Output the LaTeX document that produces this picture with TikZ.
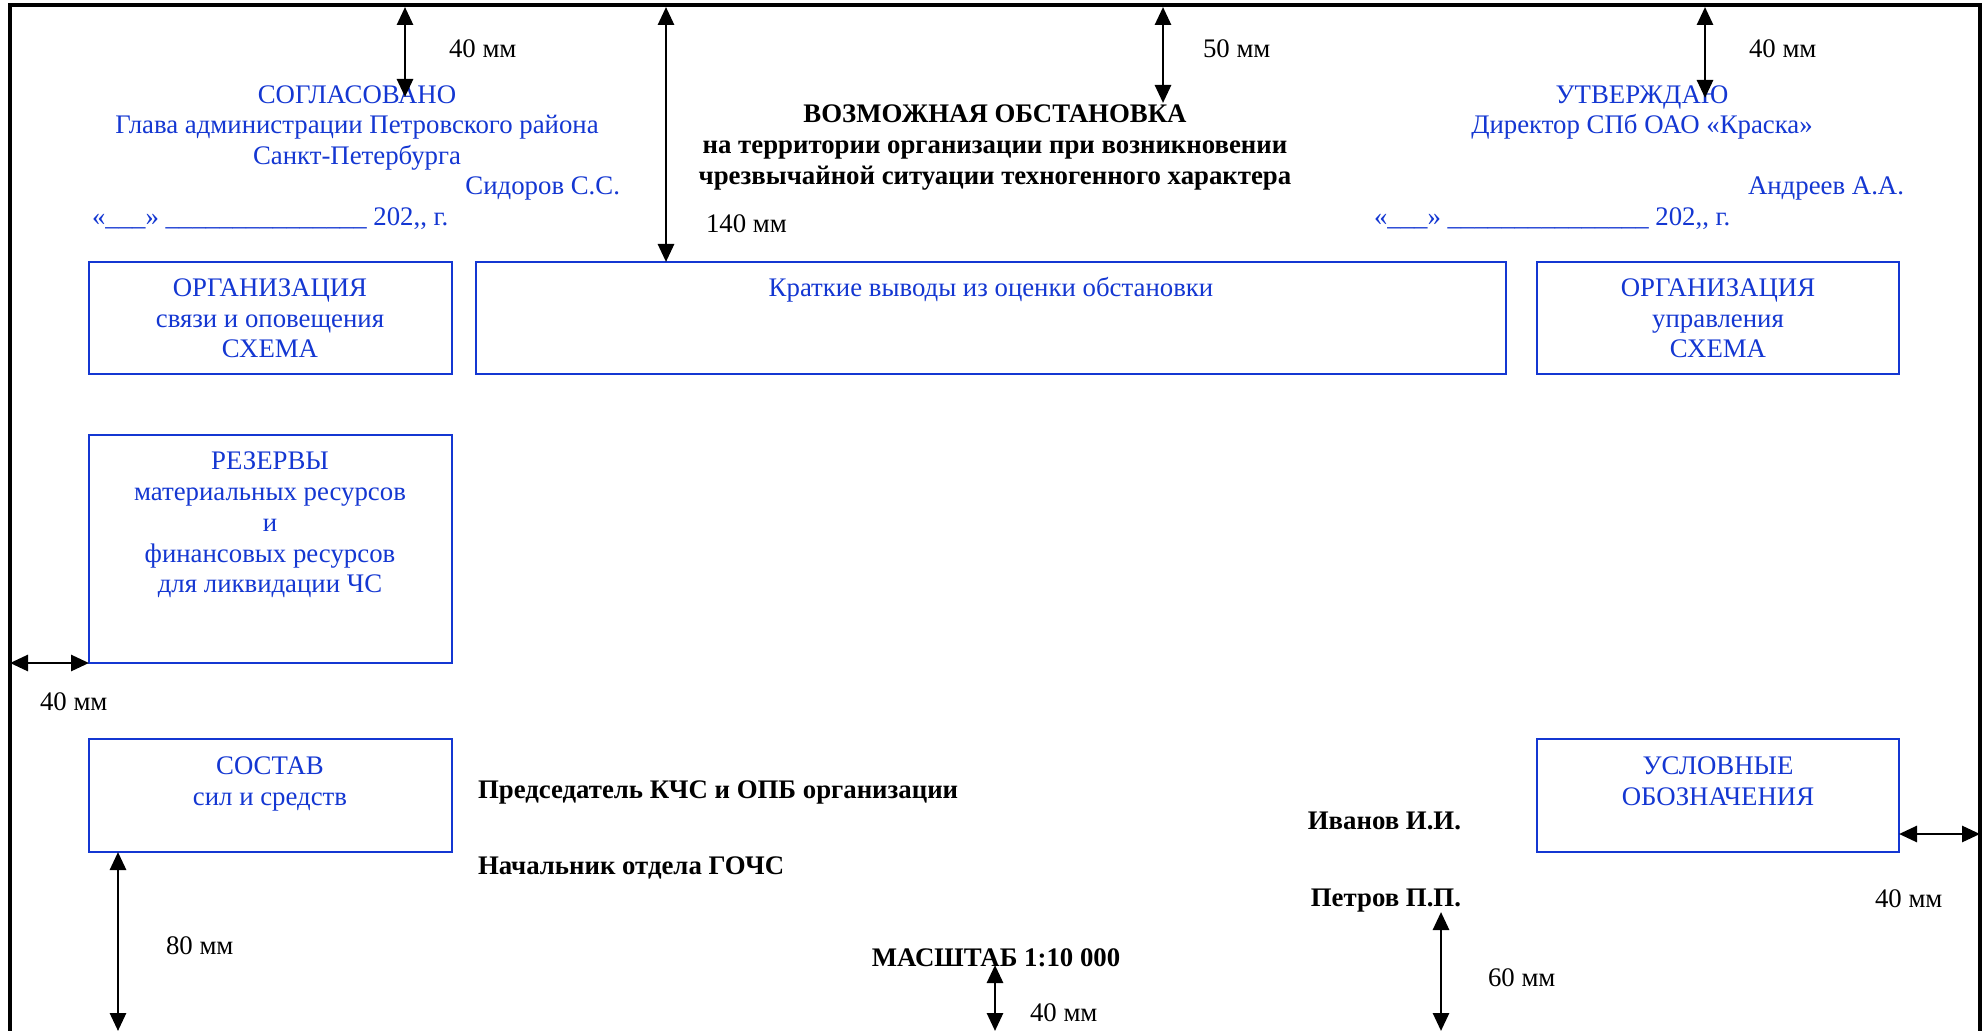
\documentclass[tikz,border=0pt]{standalone}
\usepackage{fontspec}
\setmainfont{Liberation Serif}
\usetikzlibrary{arrows.meta,fit}
\definecolor{docblue}{RGB}{20,55,210}
\newcommand\fsz{\fontsize{13.4}{15.4}\selectfont}
\begin{document}
\begin{tikzpicture}[x=0.5pt,y=-0.5pt,
  every node/.style={inner sep=0pt, outer sep=0pt},
  lbl/.style={anchor=base, font=\fsz},
  bl/.style={lbl, text=docblue},
  bd/.style={lbl, font=\fsz\bfseries},
  bluebox/.style={draw=docblue, line width=1.2pt, inner sep=0pt},
  dim/.style={line width=1.4pt, {Triangle[length=9pt,width=8pt]}-{Triangle[length=9pt,width=8pt]}},
  frameline/.style={line width=1.6pt}
]
\useasboundingbox (0,0) rectangle (1984,1031);
\fill[white] (0,0) rectangle (1984,1031);

% frame
\coordinate (fbl) at (10,1031);
\coordinate (ftl) at (10,5);
\coordinate (ftr) at (1980,5);
\coordinate (fbr) at (1980,1031);
\draw[frameline] (fbl) -- (ftl) -- (ftr) -- (fbr);

% boxes
\node[bluebox, fit={(89,262)(452,374)}] (b1) {};
\node[bluebox, fit={(476,262)(1506,374)}] (b2) {};
\node[bluebox, fit={(1537,262)(1899,374)}] (b3) {};
\node[bluebox, fit={(89,435)(452,663)}] (b4) {};
\node[bluebox, fit={(89,739)(452,852)}] (b5) {};
\node[bluebox, fit={(1537,739)(1899,852)}] (b6) {};

% box texts
\node[bl] (b1t1) at (270,297) {ОРГАНИЗАЦИЯ};
\node[bl] (b1t2) at (270,328) {связи и оповещения};
\node[bl] (b1t3) at (270,358) {СХЕМА};
\node[bl] (b2t1) at (991,297) {Краткие выводы из оценки обстановки};
\node[bl] (b3t1) at (1718,297) {ОРГАНИЗАЦИЯ};
\node[bl] (b3t2) at (1718,328) {управления};
\node[bl] (b3t3) at (1718,358) {СХЕМА};
\node[bl] (b4t1) at (270,470) {РЕЗЕРВЫ};
\node[bl] (b4t2) at (270,501) {материальных ресурсов};
\node[bl] (b4t3) at (270,531) {и};
\node[bl] (b4t4) at (270,562) {финансовых ресурсов};
\node[bl] (b4t5) at (270,592) {для ликвидации ЧС};
\node[bl] (b5t1) at (270,774) {СОСТАВ};
\node[bl] (b5t2) at (270,805) {сил и средств};
\node[bl] (b6t1) at (1718,774) {УСЛОВНЫЕ};
\node[bl] (b6t2) at (1718,805) {ОБОЗНАЧЕНИЯ};

% left header
\node[bl] (h1) at (357,104) {СОГЛАСОВАНО};
\node[bl] (h2) at (357,134) {Глава администрации Петровского района};
\node[bl] (h3) at (357,165) {Санкт-Петербурга};
\node[bl, anchor=base east] (h4) at (620,195) {Сидоров С.С.};
\node[bl, anchor=base west] (h5) at (92,226) {«\_\_\_» \_\_\_\_\_\_\_\_\_\_\_\_\_\_\_ 202,{},{} г.};

% title
\node[bd] (t1) at (995,123) {ВОЗМОЖНАЯ ОБСТАНОВКА};
\node[bd] (t2) at (995,154) {на территории организации при возникновении};
\node[bd] (t3) at (995,185) {чрезвычайной ситуации техногенного характера};

% right header
\node[bl] (r1) at (1642,104) {УТВЕРЖДАЮ};
\node[bl] (r2) at (1642,134) {Директор СПб ОАО «Краска»};
\node[bl, anchor=base east] (r3) at (1904,195) {Андреев А.А.};
\node[bl, anchor=base west] (r4) at (1374,226) {«\_\_\_» \_\_\_\_\_\_\_\_\_\_\_\_\_\_\_ 202,{},{} г.};

% bottom texts
\node[bd, anchor=base west] (p1) at (478,798) {Председатель КЧС и ОПБ организации};
\node[bd, anchor=base west] (p2) at (478,874) {Начальник отдела ГОЧС};
\node[bd, anchor=base east] (n1) at (1461,829) {Иванов И.И.};
\node[bd, anchor=base east] (n2) at (1461,906) {Петров П.П.};
\node[bd] (sc) at (996,966) {МАСШТАБ 1:10 000};

% dimension labels
\node[lbl, anchor=base west] (d1) at (449,58) {40 мм};
\node[lbl, anchor=base west] (d2) at (706,233) {140 мм};
\node[lbl, anchor=base west] (d3) at (1203,58) {50 мм};
\node[lbl, anchor=base west] (d4) at (1749,58) {40 мм};
\node[lbl, anchor=base west] (d5) at (40,710) {40 мм};
\node[lbl, anchor=base west] (d6) at (1875,907) {40 мм};
\node[lbl, anchor=base west] (d7) at (166,954) {80 мм};
\node[lbl, anchor=base west] (d8) at (1030,1021) {40 мм};
\node[lbl, anchor=base west] (d9) at (1488,986) {60 мм};

% arrow end points
\coordinate (a1s) at (405,7);   \coordinate (a1e) at (405,97);
\coordinate (a2s) at (666,7);
\coordinate (a3s) at (1163,7);  \coordinate (a3e) at (1163,103);
\coordinate (a4s) at (1705,7);  \coordinate (a4e) at (1705,98);
\coordinate (a5s) at (10,663);
\coordinate (a6s) at (1899,834); \coordinate (a6e) at (1980,834);
\coordinate (a7e) at (118,1031);
\coordinate (a8s) at (995,965); \coordinate (a8e) at (995,1031);
\coordinate (a9s) at (1441,912); \coordinate (a9e) at (1441,1031);

\draw[dim] (a1s) -- (a1e);
\draw[dim] (a2s) -- (a2s |- b2.north);
\draw[dim] (a3s) -- (a3e);
\draw[dim] (a4s) -- (a4e);
\draw[dim] (a5s) -- (b4.south west);
\draw[dim] (a6s) -- (a6e);
\draw[dim] (a7e |- b5.south) -- (a7e);
\draw[dim] (a8s) -- (a8e);
\draw[dim] (a9s) -- (a9e);
\end{tikzpicture}
\end{document}
